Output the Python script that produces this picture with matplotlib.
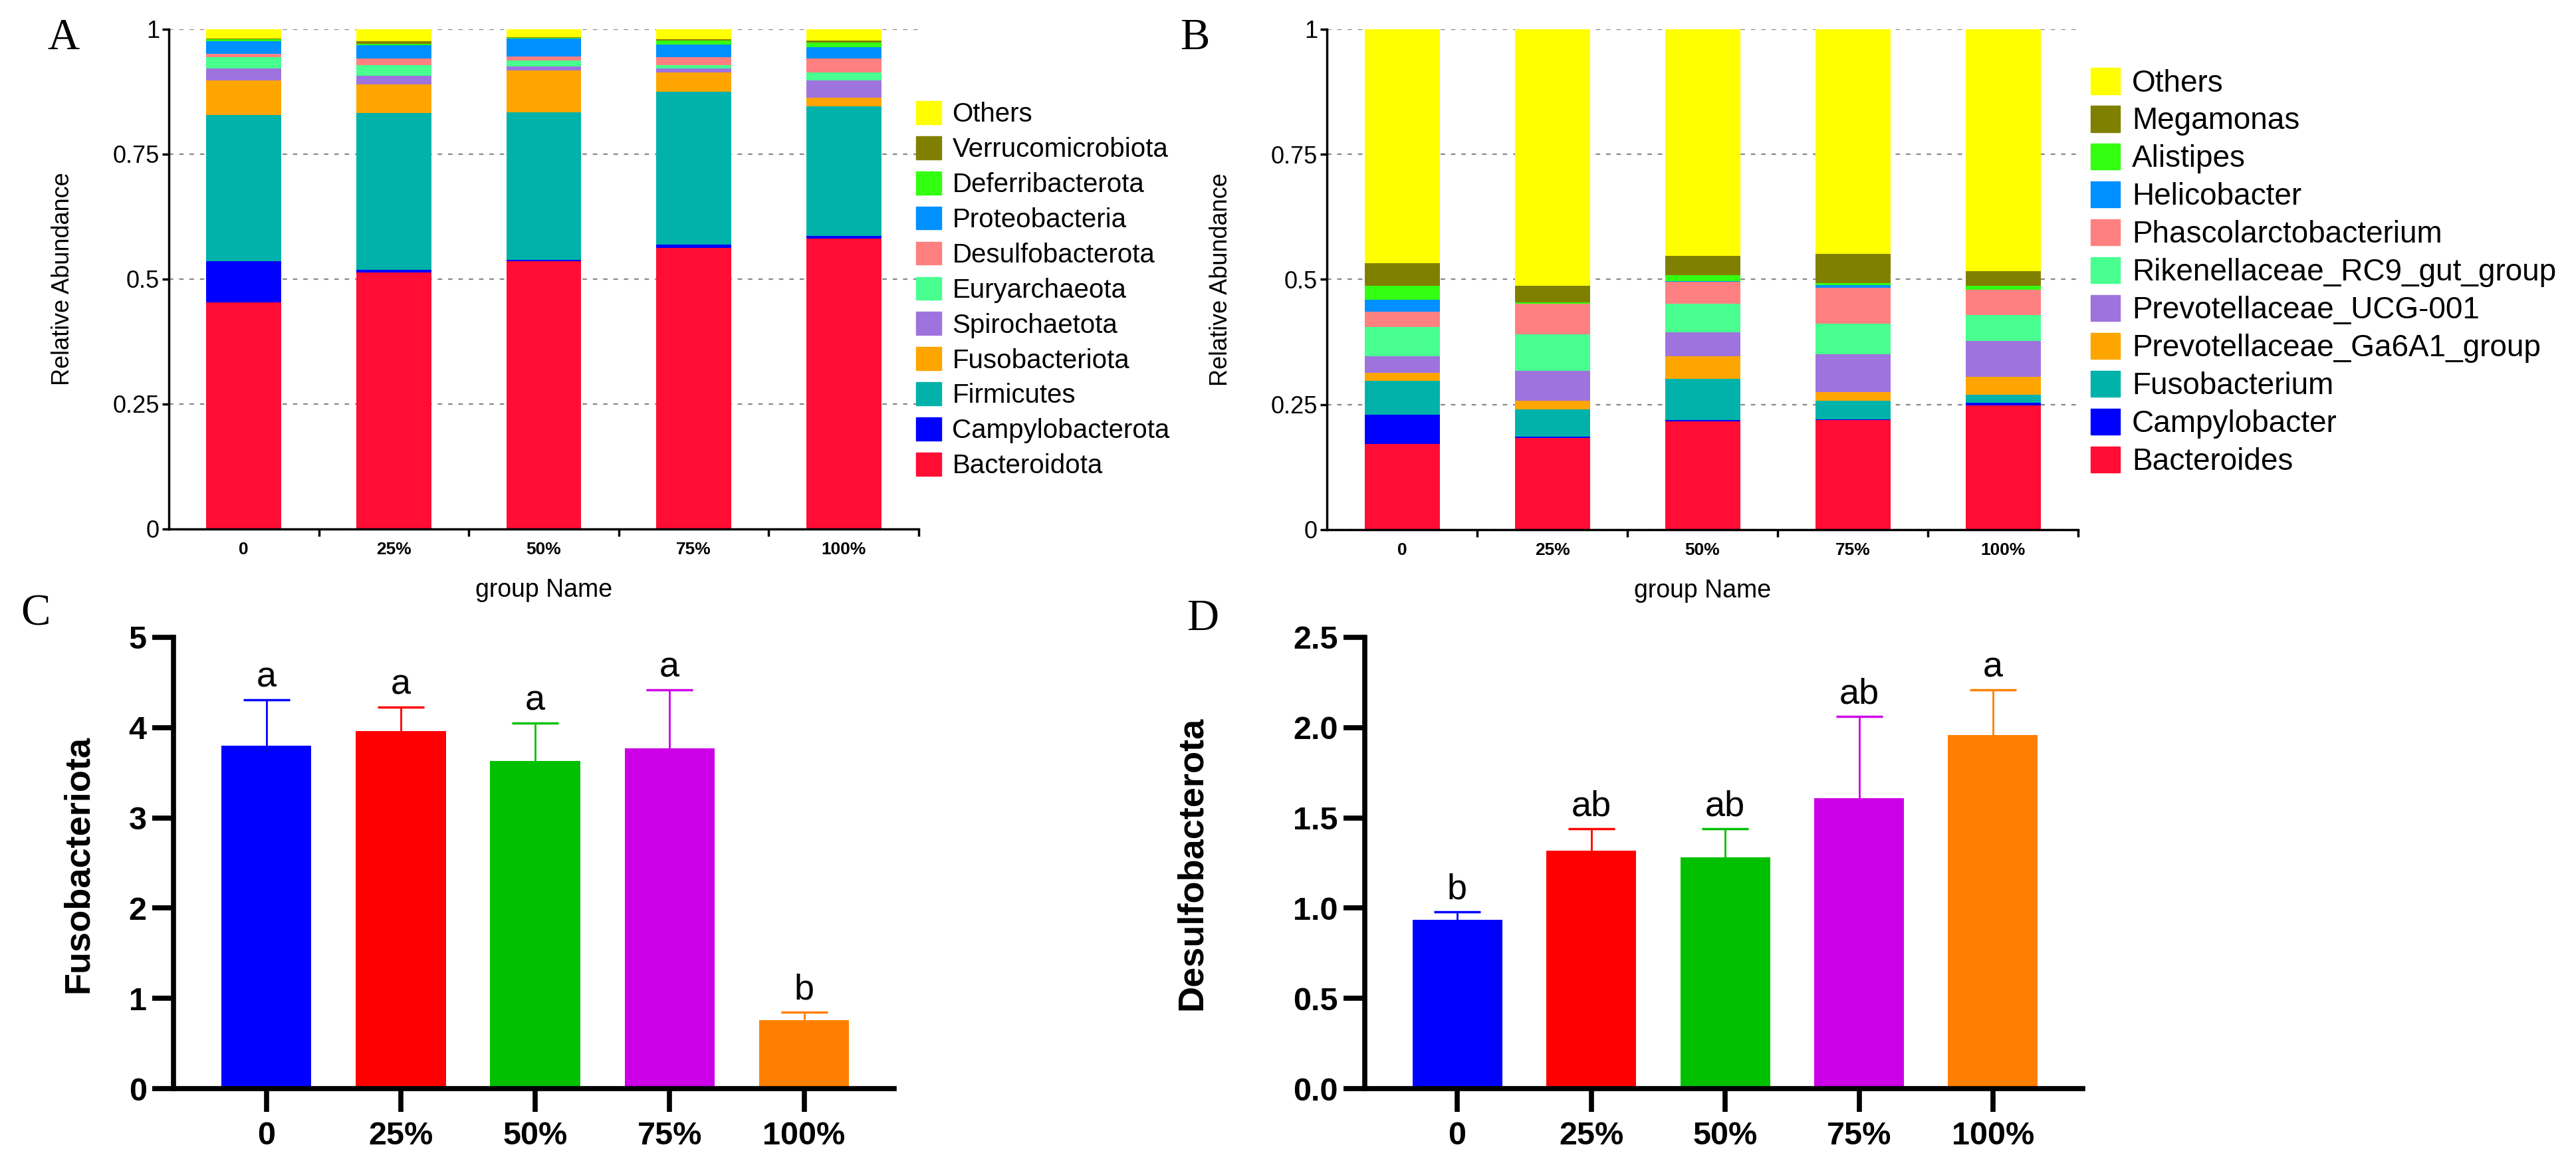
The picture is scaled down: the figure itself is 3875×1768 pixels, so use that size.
import numpy as np
import matplotlib
matplotlib.use("Agg")
import matplotlib.pyplot as plt
from matplotlib.patches import Patch

plt.rcParams['font.family'] = ['Liberation Sans', 'DejaVu Sans']

W, H = 3875, 1768

groups = ['0', '25%', '50%', '75%', '100%']

# panel A - phylum relative abundance (bottom -> top)
phyla = ['Bacteroidota', 'Campylobacterota', 'Firmicutes', 'Fusobacteriota',
         'Spirochaetota', 'Euryarchaeota', 'Desulfobacterota', 'Proteobacteria',
         'Deferribacterota', 'Verrucomicrobiota', 'Others']
bacteroidota = [0.454, 0.513, 0.536, 0.563, 0.581]
campylobacterota = [0.082, 0.005, 0.003, 0.006, 0.005]
firmicutes = [0.292, 0.314, 0.295, 0.306, 0.260]
fusobacteriota = [0.070, 0.058, 0.084, 0.039, 0.017]
spirochaetota = [0.024, 0.017, 0.008, 0.008, 0.034]
euryarchaeota = [0.022, 0.021, 0.012, 0.006, 0.017]
desulfobacterota = [0.007, 0.014, 0.008, 0.016, 0.027]
proteobacteria = [0.025, 0.026, 0.035, 0.025, 0.023]
deferribacterota = [0.004, 0.003, 0.002, 0.009, 0.009]
verrucomicrobiota = [0.001, 0.005, 0.001, 0.002, 0.004]
others_a = [0.019, 0.024, 0.016, 0.020, 0.023]

# panel B - genus relative abundance (bottom -> top)
genera = ['Bacteroides', 'Campylobacter', 'Fusobacterium', 'Prevotellaceae_Ga6A1_group',
          'Prevotellaceae_UCG-001', 'Rikenellaceae_RC9_gut_group', 'Phascolarctobacterium',
          'Helicobacter', 'Alistipes', 'Megamonas', 'Others']
bacteroides = [0.171, 0.183, 0.216, 0.219, 0.249]
campylobacter = [0.059, 0.003, 0.003, 0.001, 0.005]
fusobacterium = [0.068, 0.055, 0.083, 0.037, 0.016]
ga6a1 = [0.016, 0.016, 0.045, 0.018, 0.035]
ucg001 = [0.033, 0.061, 0.047, 0.075, 0.072]
rc9 = [0.058, 0.073, 0.057, 0.062, 0.052]
phascolarctobacterium = [0.030, 0.060, 0.045, 0.072, 0.050]
helicobacter = [0.025, 0.001, 0.001, 0.005, 0.001]
alistipes = [0.027, 0.002, 0.011, 0.004, 0.007]
megamonas = [0.046, 0.034, 0.039, 0.058, 0.030]
others_b = [0.467, 0.512, 0.454, 0.449, 0.484]

# panels C, D - mean and upper SD (%)
fuso_mean = [3.80, 3.96, 3.63, 3.77, 0.76]
fuso_err = [0.51, 0.27, 0.42, 0.65, 0.09]
fuso_sig = ['a', 'a', 'a', 'a', 'b']
desulfo_mean = [0.935, 1.317, 1.282, 1.61, 1.96]
desulfo_err = [0.045, 0.121, 0.156, 0.453, 0.25]
desulfo_sig = ['b', 'ab', 'ab', 'ab', 'a']

stack_colors = ['#FF0D35', '#0000FF', '#00B2A9', '#FFA500', '#9F73DE', '#48FF90',
                '#FF8080', '#0090FF', '#33FF11', '#808000', '#FFFF00']
bar_colors = ['#0000FF', '#FF0000', '#00C000', '#CC00E6', '#FF8000']


def fig_rect(x0, x1, y_top, y_bot):
    return [x0 / W, 1 - y_bot / H, (x1 - x0) / W, (y_bot - y_top) / H]


def stacked(ax, series, names, legend_x, legend_y, legend_fs, spacing):
    x = np.arange(len(groups))
    bottom = np.zeros(len(groups))
    for vals, col, name in zip(series, stack_colors, names):
        ax.bar(x, vals, width=0.5, bottom=bottom, color=col, label=name, zorder=2)
        bottom += np.array(vals)
    ax.set_xlim(-0.5, 4.5)
    ax.set_ylim(0, 1)
    ax.set_yticks([0, 0.25, 0.5, 0.75, 1])
    ax.set_yticklabels(['0', '0.25', '0.5', '0.75', '1'], fontsize=26)
    ax.set_xticks(x)
    ax.set_xticklabels(groups, fontsize=19, fontweight='bold')
    ax.set_xticks(np.arange(0.5, 5, 1), minor=True)
    ax.tick_params(axis='x', which='major', length=0, pad=14)
    ax.tick_params(axis='x', which='minor', length=8, width=2.5)
    ax.tick_params(axis='y', length=7, width=2.5, pad=3)
    for s in ['top', 'right']:
        ax.spines[s].set_visible(False)
    for s in ['left', 'bottom']:
        ax.spines[s].set_linewidth(2.5)
    ax.yaxis.grid(True, linestyle=(0, (3, 4)), color='#888888', linewidth=1.6, zorder=0)
    ax.set_axisbelow(True)
    ax.set_ylabel('Relative Abundance', fontsize=26)
    ax.yaxis.set_label_coords(-142 / (W * ax.get_position().width), 0.5)
    ax.set_xlabel('group Name', fontsize=27, labelpad=22)
    handles = [Patch(color=c, label=n) for c, n in zip(stack_colors, names)][::-1]
    fig.legend(handles=handles, loc='upper left', frameon=False,
               bbox_to_anchor=(legend_x / W, 1 - legend_y / H),
               fontsize=legend_fs, handlelength=0.95, handleheight=0.95,
               handletextpad=0.4, labelspacing=spacing, borderaxespad=0, borderpad=0)


def means_plot(ax, mean, err, sig, ylim, yticks, ylabels, ylabel):
    x = np.arange(len(groups))
    ax.bar(x, mean, width=0.67, color=bar_colors, zorder=2)
    for i in range(len(x)):
        _, caps, _ = ax.errorbar(x[i], mean[i], yerr=[[0], [err[i]]], color=bar_colors[i],
                                 elinewidth=2, capsize=25, capthick=2.5, zorder=1)
        caps[0].set_visible(False)  # only the upper cap
        ax.annotate(sig[i], (x[i], mean[i] + err[i]), xytext=(0, 14),
                    textcoords='offset points', ha='center', va='baseline', fontsize=39)
    ax.set_xlim(-0.69, 4.67)
    ax.set_ylim(*ylim)
    ax.set_yticks(yticks)
    ax.set_yticklabels(ylabels, fontsize=35, fontweight='bold')
    ax.set_xticks(x)
    ax.set_xticklabels(groups, fontsize=35, fontweight='bold')
    ax.tick_params(axis='x', length=25, width=5.5, pad=10)
    ax.tick_params(axis='y', length=23, width=5.5, pad=6)
    for s in ['top', 'right']:
        ax.spines[s].set_visible(False)
    for s in ['left', 'bottom']:
        ax.spines[s].set_linewidth(5.5)
    ax.set_ylabel(ylabel, fontsize=39, fontweight='bold')


fig = plt.figure(figsize=(W / 100, H / 100), dpi=100)

ax_a = fig.add_axes(fig_rect(254, 1382, 44, 796))
stacked(ax_a, [bacteroidota, campylobacterota, firmicutes, fusobacteriota, spirochaetota,
               euryarchaeota, desulfobacterota, proteobacteria, deferribacterota,
               verrucomicrobiota, others_a], phyla, 1378, 152, 29, 0.34)

ax_b = fig.add_axes(fig_rect(1996, 3126, 44, 797))
stacked(ax_b, [bacteroides, campylobacter, fusobacterium, ga6a1, ucg001, rc9,
               phascolarctobacterium, helicobacter, alistipes, megamonas, others_b],
        genera, 3145, 102, 33, 0.25)

ax_c = fig.add_axes(fig_rect(261, 1345, 959, 1638))
means_plot(ax_c, fuso_mean, fuso_err, fuso_sig, (0, 5), [0, 1, 2, 3, 4, 5],
           ['0', '1', '2', '3', '4', '5'], 'Fusobacteriota')
ax_c.yaxis.set_label_coords(143 / W, 1 - 1300 / H, transform=fig.transFigure)

ax_d = fig.add_axes(fig_rect(2053, 3133, 959, 1638))
means_plot(ax_d, desulfo_mean, desulfo_err, desulfo_sig, (0, 2.5),
           [0, 0.5, 1.0, 1.5, 2.0, 2.5], ['0.0', '0.5', '1.0', '1.5', '2.0', '2.5'],
           'Desulfobacterota')
ax_d.yaxis.set_label_coords(1818 / W, 1 - 1299 / H, transform=fig.transFigure)

for lab, px, py in [('A', 95, 58), ('B', 1797, 58), ('C', 54, 924), ('D', 1809, 931)]:
    fig.text(px / W, 1 - py / H, lab, fontsize=48, family='Liberation Serif',
             ha='center', va='center')

fig.savefig('out.png', dpi=100)
